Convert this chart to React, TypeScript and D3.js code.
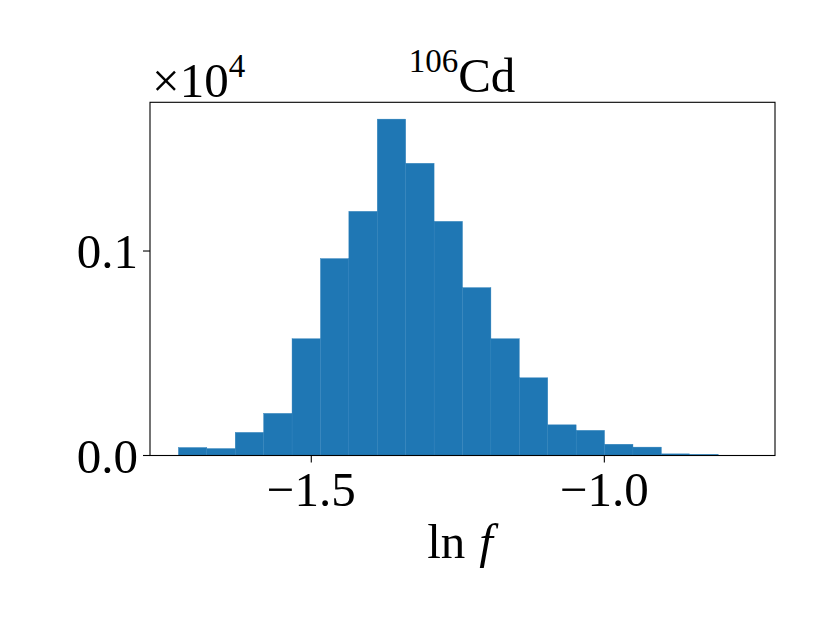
import React from "react";
import * as d3 from "d3";

const binStart = -1.7267;
const binWidth = 0.04847;
const counts = [39, 34, 113, 206, 571, 963, 1194, 1645, 1429, 1145, 821, 571, 380, 150, 123, 55, 41, 8, 6, 1];
const xTicks = [-1.5, -1.0];
const yTicks = [0, 1000];
const titleSup = "106";
const titleMain = "Cd";

export default function App() {
  const W = 830, H = 623;
  const left = 150, right = 775, top = 102.3, bottom = 455.5;
  const edges = counts.map((_, i) => binStart + i * binWidth);
  const xmin = binStart, xmax = binStart + counts.length * binWidth;
  const pad = (xmax - xmin) * 0.05;
  const x = d3.scaleLinear().domain([xmin - pad, xmax + pad]).range([left, right]);
  const ymax = (d3.max(counts) as number) * 1.05;
  const y = d3.scaleLinear().domain([0, ymax]).range([bottom, top]);
  const font = "'Liberation Serif', 'Times New Roman', serif";
  const fs = 49;
  const fmtX = (v: number) => "\u2212" + Math.abs(v).toFixed(1);
  const fmtY = (v: number) => (v / 1e4).toFixed(1);
  return (
    <svg width={W} height={H} style={{ position: "absolute", left: 0, top: 0 }} fontFamily={font}>
      <rect width={W} height={H} fill="#fff" />
      {counts.map((c, i) => (
        <rect
          key={i}
          x={x(edges[i])}
          y={y(c)}
          width={x(edges[i] + binWidth) - x(edges[i])}
          height={bottom - y(c)}
          fill="#1f77b4"
          stroke="#2d80bb"
          strokeWidth={0.4}
        />
      ))}
      <rect x={left} y={top} width={right - left} height={bottom - top} fill="none" stroke="#000" strokeWidth={1.1} />
      {xTicks.map((t) => (
        <g key={t}>
          <line x1={x(t)} x2={x(t)} y1={bottom} y2={bottom + 7} stroke="#000" strokeWidth={1.1} />
          <text x={x(t)} y={bottom + 50} textAnchor="middle" fontSize={fs}>{fmtX(t)}</text>
        </g>
      ))}
      {yTicks.map((t) => (
        <g key={t}>
          <line x1={left - 7} x2={left} y1={y(t)} y2={y(t)} stroke="#000" strokeWidth={1.1} />
          <text x={left - 12} y={y(t) + 17} textAnchor="end" fontSize={fs}>{fmtY(t)}</text>
        </g>
      ))}
      <text x={152} y={97} fontSize={fs}>
        ×10<tspan fontSize={33} dy={-20}>4</tspan>
      </text>
      <text x={462} y={92} textAnchor="middle" fontSize={fs}>
        <tspan fontSize={33} dy={-20}>{titleSup}</tspan>
        <tspan dy={20}>{titleMain}</tspan>
      </text>
      <text x={460} y={558} textAnchor="middle" fontSize={fs}>
        ln<tspan dx={14} fontStyle="italic">f</tspan>
      </text>
    </svg>
  );
}
